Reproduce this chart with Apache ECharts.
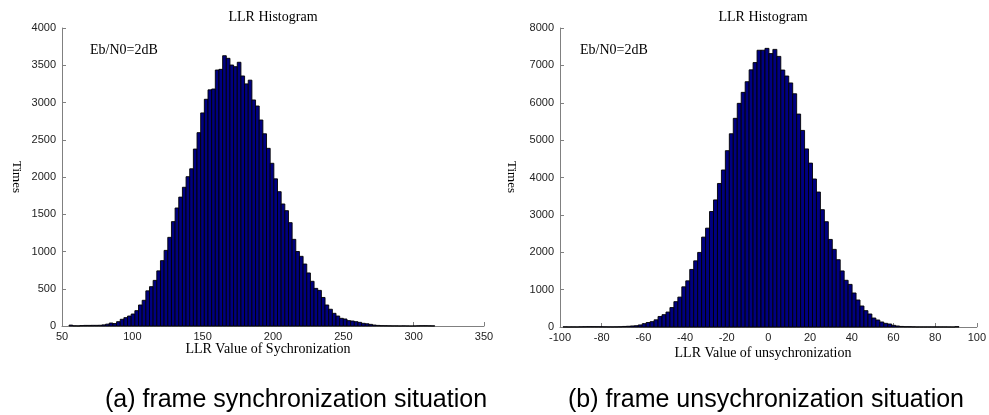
<!DOCTYPE html>
<html>
<head>
<meta charset="utf-8">
<script src="https://cdn.jsdelivr.net/npm/echarts@6/dist/echarts.min.js"></script>
<style>
html,body{margin:0;padding:0;background:#fff;}
#chart{width:989px;height:415px;}
</style>
</head>
<body>
<div id="chart"></div>
<script>
// ---- data ----
const syncBinStart = 56.3;   // centre of first bin (LLR value)
const syncBinWidth = 2.6;
const syncCounts = [
  12, 3, 2, 6, 8, 8, 9, 9, 10, 15,
  25, 40, 33, 58, 90, 112, 134, 161, 206, 282,
  345, 472, 528, 612, 740, 877, 1015, 1190, 1401, 1584,
  1730, 1862, 2004, 2110, 2375, 2595, 2860, 3043, 3170, 3181,
  3436, 3445, 3628, 3593, 3503, 3481, 3540, 3356, 3250, 3300,
  3034, 2953, 2765, 2580, 2385, 2184, 1975, 1803, 1638, 1548,
  1387, 1163, 1000, 935, 832, 712, 600, 505, 478, 383,
  282, 225, 170, 134, 103, 94, 72, 67, 58, 49,
  36, 30, 22, 13, 8, 5, 4, 3, 2, 2,
  1, 2, 1, 0, 1, 3, 4, 4, 3, 2
];

const unsyncBinStart = -97.6;
const unsyncBinWidth = 1.9;
const unsyncCounts = [
  5, 3, 4, 3, 6, 8, 10, 10, 9, 8,
  6, 5, 5, 6, 8, 15, 20, 28, 35, 55,
  89, 120, 143, 192, 282, 330, 400, 520, 678, 800,
  1075, 1235, 1540, 1770, 1995, 2405, 2645, 3090, 3400, 3840,
  4201, 4718, 5170, 5583, 5984, 6278, 6563, 6880, 7075, 7405,
  7405, 7455, 7315, 7428, 7240, 6875, 6715, 6530, 6240, 5697,
  5260, 4765, 4385, 3960, 3611, 3139, 2817, 2343, 2077, 1800,
  1500, 1250, 1140, 910, 722, 562, 437, 348, 240, 187,
  134, 98, 80, 45, 27, 15, 9, 9, 6, 3,
  3, 3, 3, 3, 3, 3, 3, 2, 1, 9
];

const titleText = 'LLR Histogram';
const noteText = 'Eb/N0=2dB';
const yName = 'Times';
const syncXName = 'LLR Value of Sychronization';
const unsyncXName = 'LLR Value of unsychronization';
const captionA = '(a) frame synchronization situation';
const captionB = '(b) frame unsychronization situation';

// ---- build ----
function toBins(start, width, counts) {
  return counts.map((c, i) => [start + width * i, c, width]);
}

const SERIF = '"Liberation Serif","Times New Roman",serif';
const SANS = '"Liberation Sans",Arial,sans-serif';
const AXIS_GRAY = '#808080';

function renderBar(params, api) {
  const x = api.value(0), y = api.value(1), w = api.value(2);
  const p0 = api.coord([x - w / 2, y]);
  const p1 = api.coord([x + w / 2, 0]);
  return {
    type: 'rect',
    shape: { x: p0[0], y: p0[1], width: p1[0] - p0[0], height: p1[1] - p0[1] },
    style: { fill: '#000080', stroke: '#000000', lineWidth: 0.9 }
  };
}

const plainLabel = v => String(v);

function xAxisCfg(idx, min, max, interval) {
  return {
    type: 'value', gridIndex: idx, min: min, max: max, interval: interval,
    axisLine: { show: true, onZero: false, lineStyle: { color: AXIS_GRAY, width: 1 } },
    axisTick: { show: true, inside: true, length: 4, lineStyle: { color: AXIS_GRAY } },
    axisLabel: { color: '#222', fontFamily: SANS, fontSize: 11, margin: 5, formatter: plainLabel },
    splitLine: { show: false }
  };
}
function yAxisCfg(idx, min, max, interval) {
  return {
    type: 'value', gridIndex: idx, min: min, max: max, interval: interval,
    axisLine: { show: true, onZero: false, lineStyle: { color: AXIS_GRAY, width: 1 } },
    axisTick: { show: true, inside: true, length: 4, lineStyle: { color: AXIS_GRAY } },
    axisLabel: { color: '#222', fontFamily: SANS, fontSize: 11, margin: 6, formatter: plainLabel },
    splitLine: { show: false }
  };
}

function txt(text, x, y, font, align, rot) {
  return {
    type: 'text', x: x, y: y, rotation: rot || 0, silent: true,
    style: { text: text, font: font, fill: '#000', align: align || 'center', verticalAlign: 'middle' }
  };
}

const option = {
  animation: false,
  backgroundColor: '#ffffff',
  grid: [
    { left: 62, top: 28, width: 422, height: 298 },
    { left: 560, top: 28, width: 420, height: 299 }
  ],
  xAxis: [
    xAxisCfg(0, 50, 350, 50),
    xAxisCfg(1, -100, 100, 20)
  ],
  yAxis: [
    yAxisCfg(0, 0, 4000, 500),
    yAxisCfg(1, 0, 8000, 1000)
  ],
  series: [
    { type: 'custom', xAxisIndex: 0, yAxisIndex: 0, renderItem: renderBar,
      data: toBins(syncBinStart, syncBinWidth, syncCounts), encode: { x: 0, y: 1 } },
    { type: 'custom', xAxisIndex: 1, yAxisIndex: 1, renderItem: renderBar,
      data: toBins(unsyncBinStart, unsyncBinWidth, unsyncCounts), encode: { x: 0, y: 1 } }
  ],
  graphic: [
    txt(titleText, 273, 17, '14px ' + SERIF),
    txt(titleText, 763, 17, '14px ' + SERIF),
    txt(noteText, 90, 50, '14px ' + SERIF, 'left'),
    txt(noteText, 580, 50, '14px ' + SERIF, 'left'),
    txt(yName, 16, 177, '13px ' + SERIF, 'center', -Math.PI / 2),
    txt(yName, 511, 177, '13px ' + SERIF, 'center', -Math.PI / 2),
    txt(syncXName, 268, 349, '14px ' + SERIF),
    txt(unsyncXName, 763, 353, '14px ' + SERIF),
    txt(captionA, 296, 400, '25px ' + SANS),
    txt(captionB, 766, 400, '25px ' + SANS)
  ]
};

const chart = echarts.init(document.getElementById('chart'), null, { renderer: 'canvas' });
chart.setOption(option);
</script>
</body>
</html>
